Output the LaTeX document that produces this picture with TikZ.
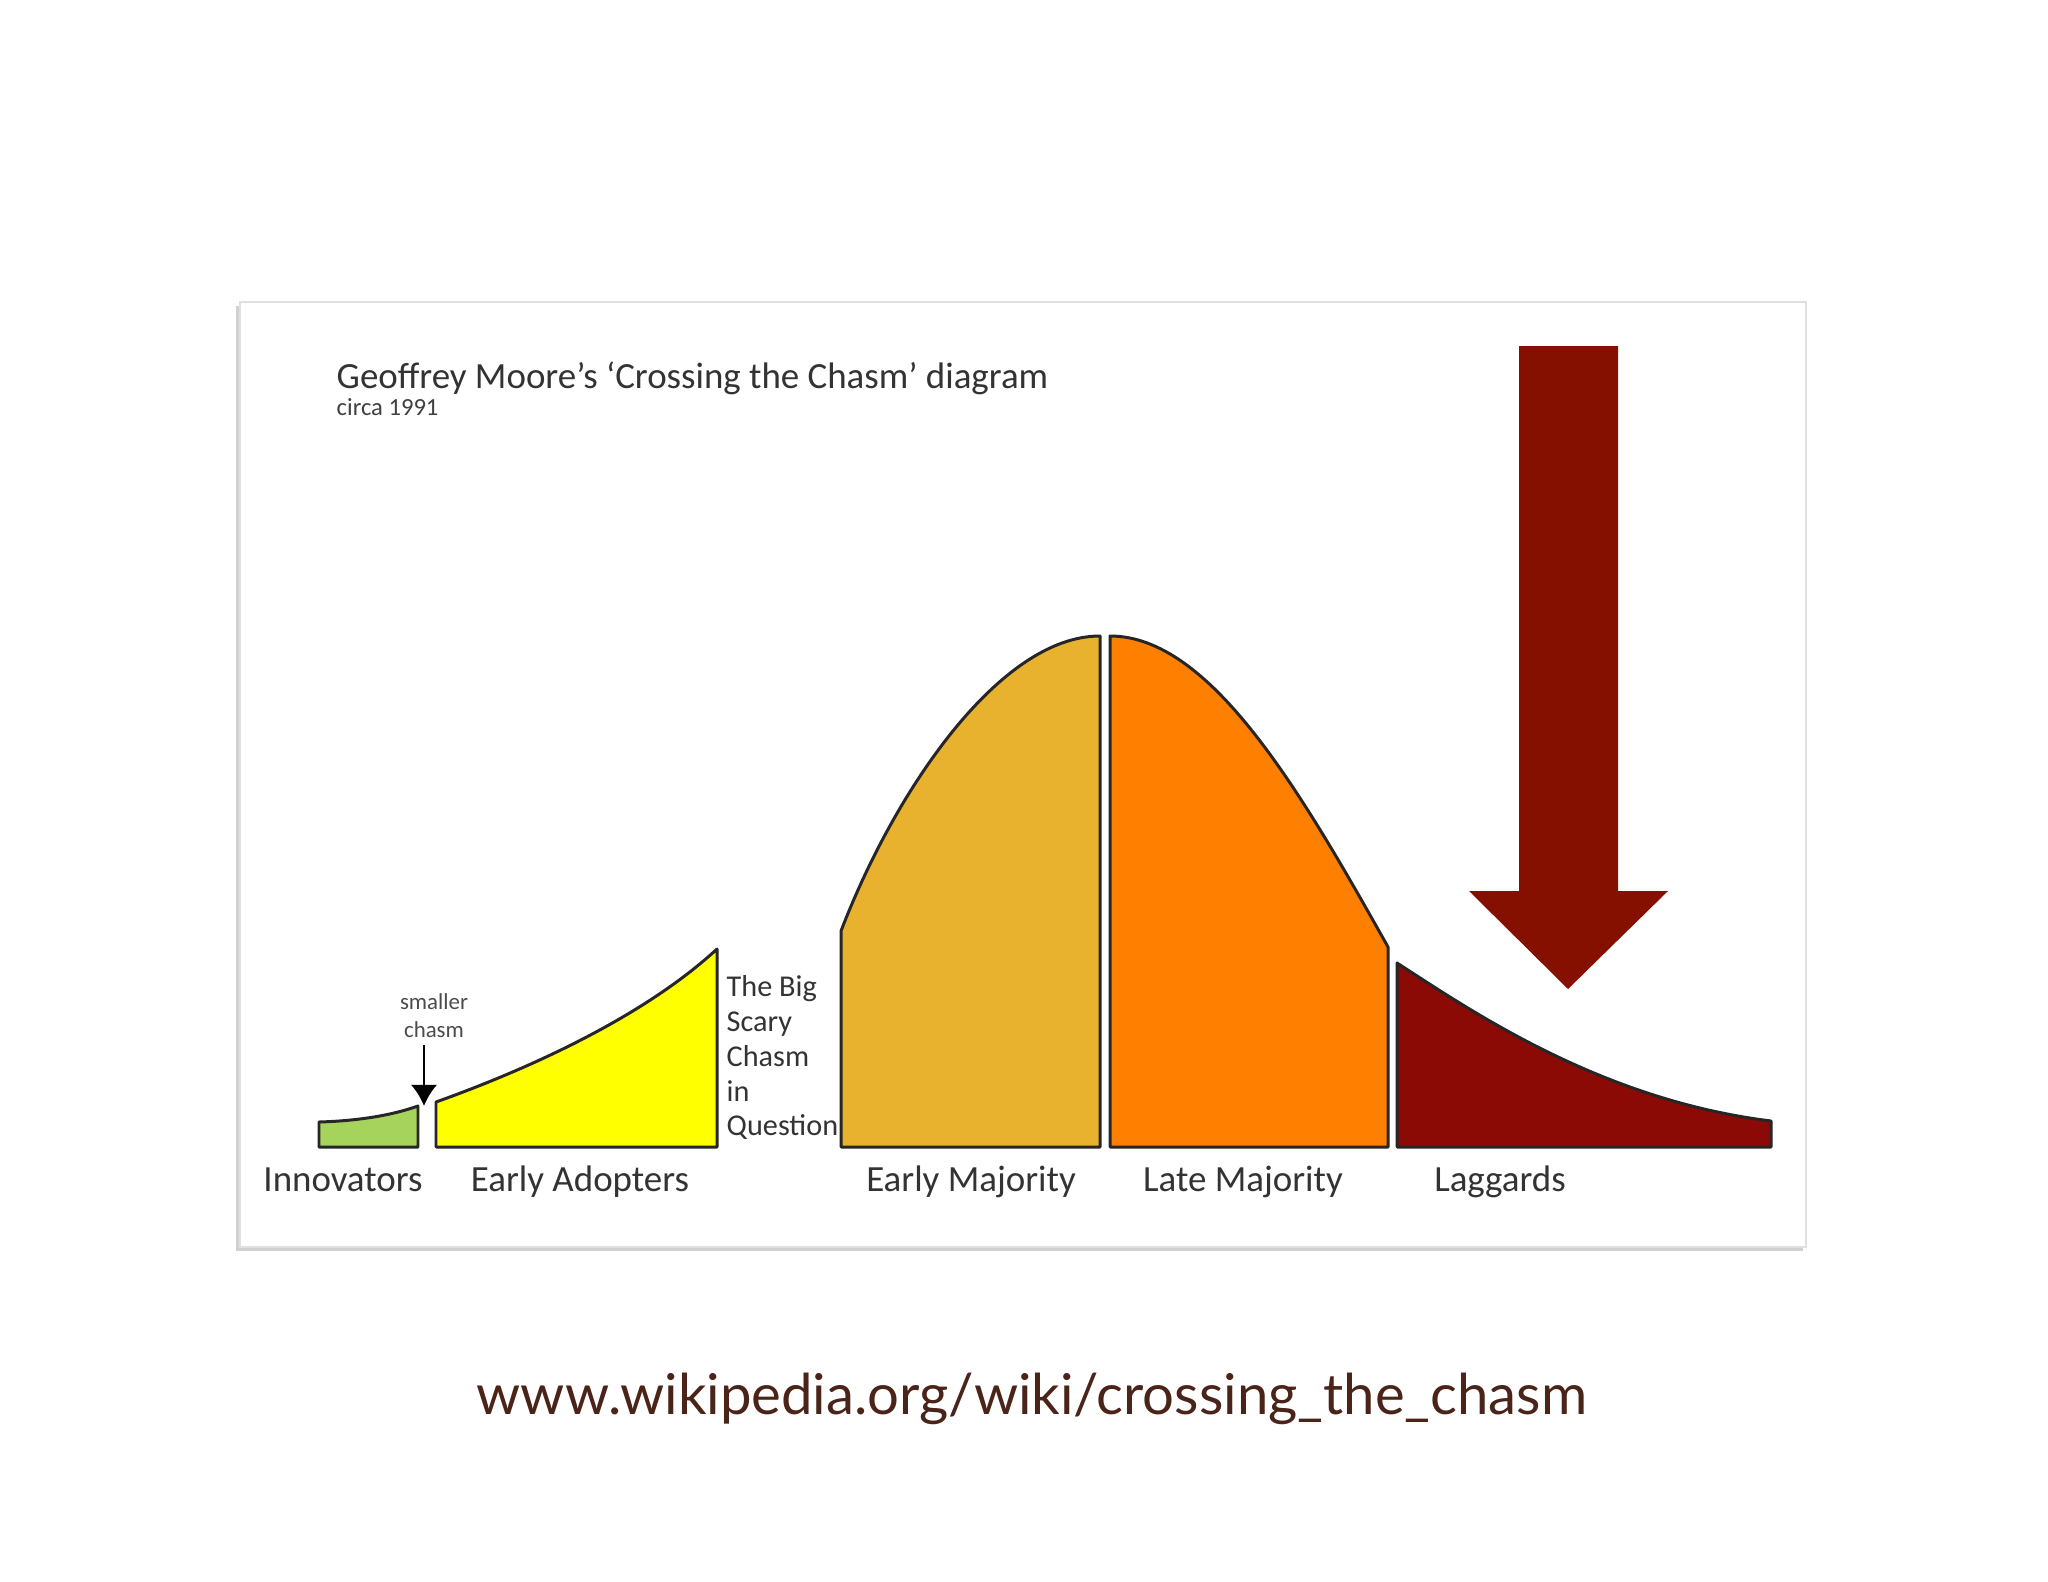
\documentclass[tikz,border=0pt]{standalone}
\usepackage{fontspec}
\setmainfont{Carlito}
\newfontfamily\urlfont{Lato}
\usetikzlibrary{positioning, arrows.meta}

\definecolor{innov}{HTML}{A6D35B}
\definecolor{adopt}{HTML}{FFFF00}
\definecolor{early}{HTML}{E8B22E}
\definecolor{late}{HTML}{FF8000}
\definecolor{lagg}{HTML}{8B0A05}
\definecolor{bigarr}{HTML}{851000}
\definecolor{urlcol}{HTML}{4A2418}

\begin{document}
\begin{tikzpicture}[x=0.01cm, y=-0.01cm,
    curve/.style={draw=black!85, line width=0.85pt, line join=round},
    lbl/.style={anchor=base, inner sep=0pt, text=black!80,
                font=\fontsize{10.5}{12}\selectfont}]
          \useasboundingbox (0,0) rectangle (2048,1582);

          % panel with its shadow
          \fill[black!18] (236,306) rectangle (1803,1251);
          \draw[black!12, fill=white] (240,302) rectangle (1806,1247);

          \node[anchor=base west, inner sep=0pt, text=black!80,
                font=\fontsize{10.5}{12}\selectfont] (t) at (336,389)
                {Geoffrey Moore's `Crossing the Chasm' diagram};
          \node[anchor=base west, inner sep=0pt, text=black!75,
                font=\fontsize{7}{8}\selectfont] (c) at (336,415) {circa 1991};

          % the curve pieces
          \draw[curve, fill=innov] (319,1147) -- (319,1122)
                .. controls (355,1121) and (390,1116) .. (418,1106) -- (418,1147) -- cycle;
          \draw[curve, fill=adopt] (436,1147) -- (436,1102)
                .. controls (520,1072) and (640,1020) .. (717,949) -- (717,1147) -- cycle;
          \draw[curve, fill=early] (841,1147) -- (841,931)
                .. controls (895,790) and (1000,636) .. (1100,636) -- (1100,1147) -- cycle;
          \draw[curve, fill=late] (1110,1147) -- (1110,636)
                .. controls (1210,636) and (1300,790) .. (1388,947) -- (1388,1147) -- cycle;
          \draw[curve, fill=lagg] (1397,1147) -- (1397,963)
                .. controls (1470,1010) and (1600,1100) .. (1771,1121) -- (1771,1147) -- cycle;

          % smaller chasm
          \node[inner sep=0pt, text=black!70, align=center,
                font=\fontsize{6.5}{8}\selectfont] (s) at (434,1016) {smaller\\chasm};
          \coordinate (st) at (424,1045);
          \coordinate (tp) at (424,1106);
          \draw[-{Latex[length=6pt, width=7.5pt]}, line width=0.85pt] (st) -- (tp);

          \node[anchor=north west, inner sep=0pt, align=left, text=black!80,
                font=\fontsize{8.6}{9.9}\selectfont] (q) at (726,975)
                {The Big\\Scary\\Chasm\\in\\Question};

          \node[lbl] (l1) at (343,1191) {Innovators};
          \node[lbl] (l2) at (580,1191) {Early Adopters};
          \node[lbl] (l3) at (971,1191) {Early Majority};
          \node[lbl] (l4) at (1243,1191) {Late Majority};
          \node[lbl] (l5) at (1500,1191) {Laggards};

          % big arrow
          \fill[bigarr] (1519,346) -- (1618,346) -- (1618,891) -- (1668,891) --
                        (1568,989) -- (1469,891) -- (1519,891) -- cycle;

          \node[anchor=base, inner sep=0pt, text=urlcol,
                font=\urlfont\fontsize{16}{19}\selectfont] (u) at (1032,1414)
                {www.wikipedia.org/wiki/crossing\_the\_chasm};
        \end{tikzpicture}
\end{document}
